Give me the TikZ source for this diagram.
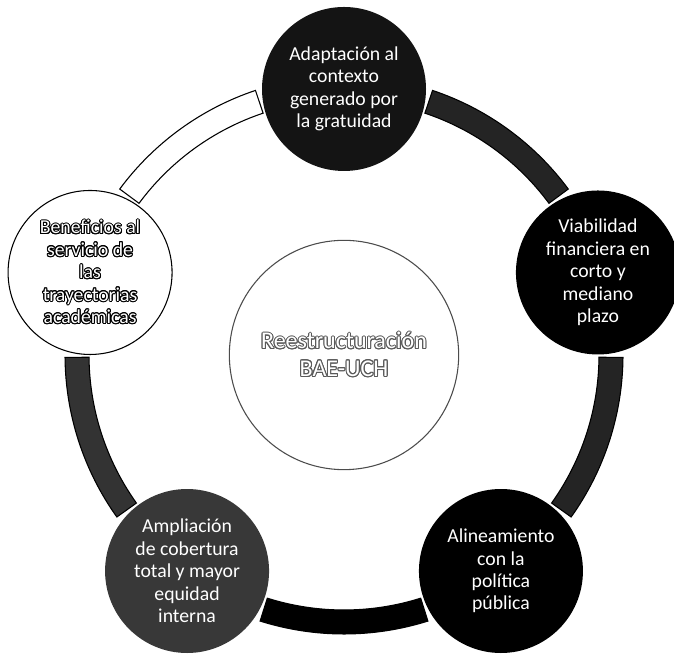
\documentclass[tikz,border=0pt]{standalone}
\usepackage{fontspec}
\setmainfont{Carlito}
\usepackage{contour}
\usetikzlibrary{calc}

\contourlength{0.75pt}
% white letters with a thin outline
\newcommand{\hollow}[2]{\contour{#1}{\textcolor{white}{#2}}}

\tikzset{
  bubble/.style={circle, minimum size=123pt, inner sep=0pt, align=center,
    text=white, font=\fontsize{14.8}{16.8}\selectfont},
  hubring/.style={circle, minimum size=172pt, inner sep=0pt, align=center,
    draw=black!70, line width=0.8pt, font=\fontsize{18}{20.5}\selectfont},
  band/.style={draw=black, line width=0.8pt},
}

\begin{document}
\begin{tikzpicture}[x=0.75pt,y=0.75pt]
    \useasboundingbox (0,0) rectangle (674,659);

    \node[hubring] (hub) at (344,304)
        {\hollow{black!65}{Reestructuración}\\\hollow{black!65}{BAE-UCH}};

    % ring pieces between the bubbles
    \draw[band, fill=black!86] ([shift={(71.5:279)}]hub.center) arc[start angle=71.5, end angle=36.5, radius=279]
        -- ([shift={(36.5:255)}]hub.center) arc[start angle=36.5, end angle=71.5, radius=255] -- cycle;
    \draw[band, fill=black!86] ([shift={(-0.5:279)}]hub.center) arc[start angle=-0.5, end angle=-35.5, radius=279]
        -- ([shift={(-35.5:255)}]hub.center) arc[start angle=-35.5, end angle=-0.5, radius=255] -- cycle;
    \draw[band, fill=black] ([shift={(-72.5:279)}]hub.center) arc[start angle=-72.5, end angle=-107.5, radius=279]
        -- ([shift={(-107.5:255)}]hub.center) arc[start angle=-107.5, end angle=-72.5, radius=255] -- cycle;
    \draw[band, fill=black!80] ([shift={(-144.5:279)}]hub.center) arc[start angle=-144.5, end angle=-179.5, radius=279]
        -- ([shift={(-179.5:255)}]hub.center) arc[start angle=-179.5, end angle=-144.5, radius=255] -- cycle;
    \draw[band, fill=white] ([shift={(143.5:279)}]hub.center) arc[start angle=143.5, end angle=108.5, radius=279]
        -- ([shift={(108.5:255)}]hub.center) arc[start angle=108.5, end angle=143.5, radius=255] -- cycle;

    \node[bubble, fill=black!92] (adapt) at ([shift={(90:266)}]hub.center)
        {Adaptación al\\contexto\\generado por\\la gratuidad};
    \node[bubble, fill=black] (viable) at ([shift={(18:267)}]hub.center)
        {Viabilidad\\financiera en\\corto y\\mediano\\plazo};
    \node[bubble, fill=black] (align) at ([shift={(-54:267)}]hub.center)
        {Alineamiento\\con la\\política\\pública};
    \node[bubble, fill=black!78] (cover) at ([shift={(-126:267)}]hub.center)
        {Ampliación\\de cobertura\\total y mayor\\equidad\\interna};
    \node[bubble, fill=white, draw=black, line width=0.8pt] (benefit) at ([shift={(162:267)}]hub.center)
        {\hollow{black}{Beneficios al}\\\hollow{black}{servicio de}\\\hollow{black}{las}\\\hollow{black}{trayectorias}\\\hollow{black}{académicas}};

\end{tikzpicture}
\end{document}
